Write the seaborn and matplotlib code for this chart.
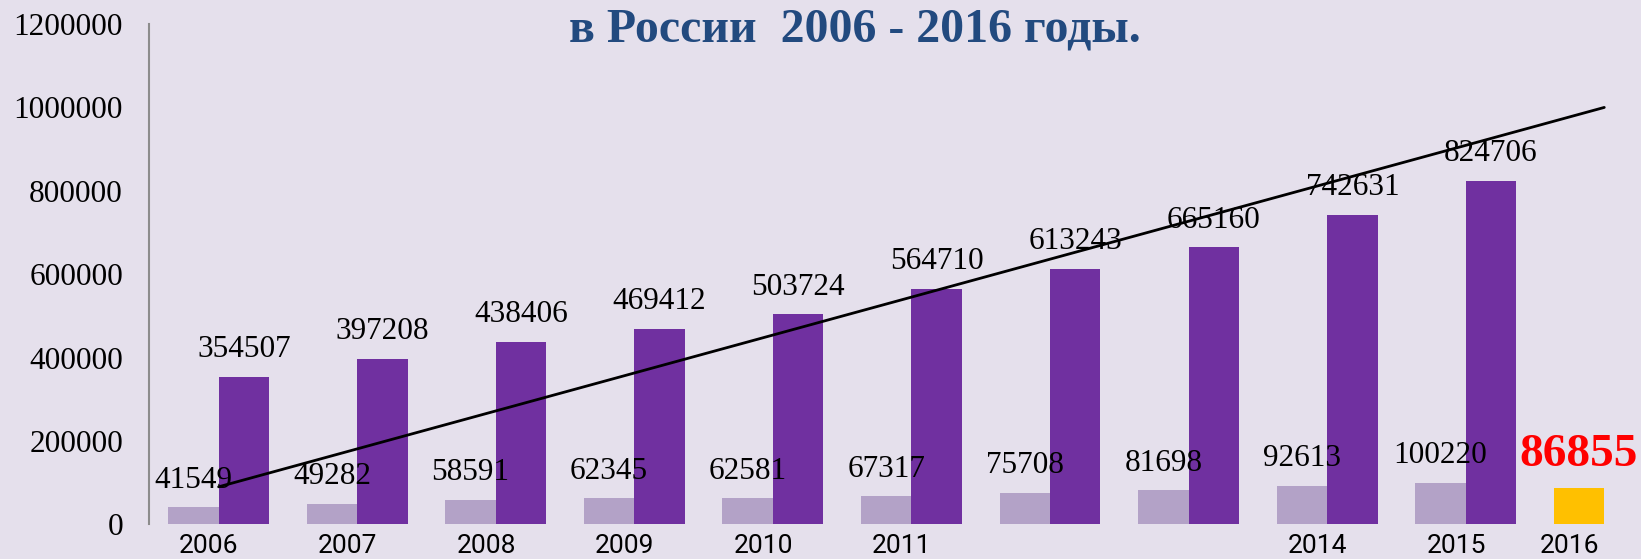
import pandas as pd
import seaborn as sns
import matplotlib.pyplot as plt
from matplotlib.transforms import ScaledTranslation

years = ["2006", "2007", "2008", "2009", "2010", "2011", "2012", "2013", "2014", "2015", "2016"]
light_values = [41549, 49282, 58591, 62345, 62581, 67317, 75708, 81698, 92613, 100220, 86855]
dark_values = [354507, 397208, 438406, 469412, 503724, 564710, 613243, 665160, 742631, 824706, None]
year_labels = ["2006", "2007", "2008", "2009", "2010", "2011", "", "", "2014", "2015", "2016"]
y_ticks = [0, 200000, 400000, 600000, 800000, 1000000, 1200000]
trend_years = ["2006", "2016"]
trend_values = [90000, 1000000]
title = "в России  2006 - 2016 годы."

bg = "#E5E0EC"
sns.set_theme(style="white", rc={"figure.facecolor": bg, "axes.facecolor": bg})
plt.rcParams["font.family"] = ["Liberation Serif", "DejaVu Serif"]

df = pd.DataFrame({
    "year": years * 2,
    "series": ["light"] * len(years) + ["dark"] * len(years),
    "value": light_values + dark_values,
})

fig = plt.figure(figsize=(16.41, 5.59), dpi=100)
ax = fig.add_axes([0.091, 0.062, 0.909, 0.895])

sns.barplot(data=df, x="year", y="value", hue="series",
            palette={"light": "#B3A2C7", "dark": "#7030A0"},
            width=0.728, saturation=1, linewidth=0, errorbar=None,
            legend=False, ax=ax)

light_bars = ax.containers[0]
dark_bars = ax.containers[1]
last = light_bars[len(light_bars) - 1]
last.set_facecolor("#FFC000")

# подписи значений
ax.bar_label(light_bars, labels=[str(v) for v in light_values[:-1]] + [""],
             padding=9, fontsize=22.5, color="black")
ax.bar_label(dark_bars, labels=[str(v) for v in dark_values[:-1]],
             padding=9, fontsize=22.5, color="black")
ax.bar_label(light_bars, labels=[""] * (len(light_values) - 1) + [str(light_values[-1])],
             padding=9, fontsize=34, fontweight="bold", color="#FF0000")

# линия тренда
trend_pos = [years.index(y) for y in trend_years]
ax.plot(trend_pos, trend_values, color="black", linewidth=2)

ticks = list(range(len(years) - 1)) + [last.get_x() + last.get_width() / 2]
ax.set_xticks(ticks)
ax.set_xticklabels(year_labels, fontfamily="Roboto", fontsize=19)
ax.set_yticks(y_ticks)
ax.set_yticklabels([str(v) for v in y_ticks], fontsize=22.5)
ax.tick_params(axis="x", length=0, pad=7, labelcolor="black")
ax.tick_params(axis="y", length=0, pad=19, labelcolor="black")
shift = ScaledTranslation(-7 / 72, 0, fig.dpi_scale_trans)
for lab in ax.get_xticklabels():
    lab.set_transform(lab.get_transform() + shift)
ax.set_xlim(-0.5, 10.265)
ax.set_ylim(0, 1200000)
ax.set_xlabel("")
ax.set_ylabel("")

for s in ["top", "right", "bottom"]:
    ax.spines[s].set_visible(False)
ax.spines["left"].set_color("#8C8C8C")
ax.spines["left"].set_linewidth(1.5)

fig.text(0.521, 0.9254, title, ha="center", va="baseline", fontsize=34.5,
         fontweight="bold", color="#224A7F")

fig.savefig("out.png", dpi=100)
